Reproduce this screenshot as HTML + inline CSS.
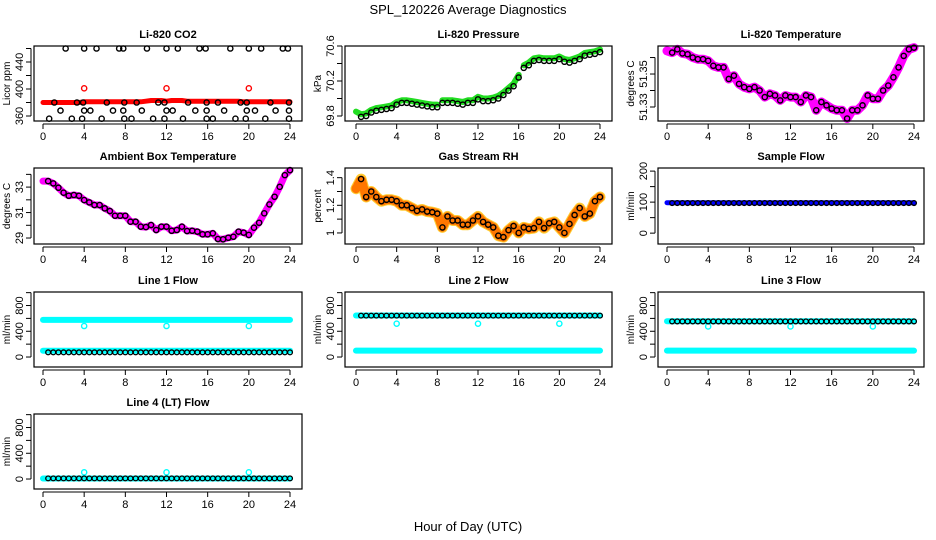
<!DOCTYPE html>
<html><head><meta charset="utf-8"><style>
html,body{margin:0;padding:0;background:#fff;}
svg{display:block;font-family:"Liberation Sans",Arial,sans-serif;}
</style></head><body>
<svg id="c" width="936" height="540" viewBox="0 0 936 540">
<text x="468" y="14" text-anchor="middle" font-size="13">SPL_120226  Average Diagnostics</text>
<text x="468" y="531" text-anchor="middle" font-size="13">Hour of Day (UTC)</text>
</svg>
<script>
// ---- data ----
const hours = [0,0.5,1,1.5,2,2.5,3,3.5,4,4.5,5,5.5,6,6.5,7,7.5,8,8.5,9,9.5,10,10.5,11,11.5,12,12.5,13,13.5,14,14.5,15,15.5,16,16.5,17,17.5,18,18.5,19,19.5,20,20.5,21,21.5,22,22.5,23,23.5,24];
const xTicks = [0,4,8,12,16,20,24];
const spikeHours = [4,12,20];
const co2BlackHours = [2.2,4,5.2,7.4,7.8,10.1,12,13.1,15.2,15.8,18.2,20,21.2,23.3,23.8, 1.1,3.3,3.9,6.2,7.9,9.1,11.2,11.8,14.1,15.9,17,19.2,19.8,22.1,23.9, 1.7,4,4.6,6.8,7.8,9.6,12,12.6,14.8,15.9,17.6,19.8,20.6,22.6,23.9, 0.6,2.8,3.8,5.7,7.9,8.6,10.7,11.8,13.6,15.9,16.5,18.7,19.7,21.6,23.9];
const co2BlackValues = [460,460,460,460,460,460,460,460,460,460,460,460,460,460,460, 380,380,380,380,380,380,380,380,380,380,380,380,380,380,380, 368,368,368,368,368,368,368,368,368,368,368,368,368,368,368, 356,356,356,356,356,356,356,356,356,356,356,356,356,356,356];
const co2Red = [380,380,380,380,380,380,380,380,381,381,381,381,381,381,381,381,381,381,381,381,382,383,383,383,382,383,383,383,382,382,382,382,382,382,382,382,382,382,382,381,381,381,381,381,381,381,381,381,381];
const co2Spikes = [401,401,401];
const pressure = [69.82,69.79,69.80,69.84,69.86,69.87,69.88,69.89,69.93,69.95,69.95,69.94,69.93,69.92,69.91,69.90,69.90,69.95,69.95,69.95,69.94,69.93,69.95,69.95,69.99,69.97,69.97,69.98,70.00,70.04,70.09,70.14,70.24,70.35,70.38,70.43,70.44,70.43,70.43,70.43,70.45,70.42,70.41,70.43,70.45,70.49,70.50,70.51,70.53];
const liTemp = [51.364,51.363,51.365,51.3625,51.362,51.360,51.359,51.359,51.358,51.355,51.354,51.354,51.347,51.349,51.344,51.342,51.341,51.342,51.340,51.336,51.338,51.337,51.334,51.337,51.336,51.336,51.333,51.337,51.336,51.328,51.333,51.331,51.329,51.328,51.328,51.323,51.328,51.328,51.331,51.337,51.335,51.335,51.340,51.343,51.348,51.354,51.361,51.365,51.366];
const ambient = [33.47,33.47,33.29,32.95,32.56,32.32,32.38,32.32,31.98,31.8,31.59,31.59,31.33,31.12,30.75,30.75,30.75,30.28,30.28,29.89,29.86,30.02,29.63,29.89,29.89,29.57,29.63,29.89,29.55,29.57,29.5,29.29,29.29,29.37,28.92,28.9,29.02,29.1,29.5,29.42,29.24,29.81,30.2,30.94,31.64,32.24,33.02,33.94,34.33];
const rh = [1.32,1.39,1.26,1.30,1.26,1.23,1.24,1.24,1.23,1.20,1.20,1.18,1.16,1.17,1.155,1.15,1.14,1.04,1.12,1.09,1.09,1.06,1.06,1.09,1.12,1.08,1.06,1.04,0.98,0.97,1.02,1.05,1.00,1.04,1.03,1.035,1.08,1.035,1.07,1.08,1.04,1.00,1.065,1.13,1.18,1.12,1.14,1.23,1.26];
const sampleFlow = [98,97];        // blue band, black points
const line1Flow = [576,98,73];     // cyan upper, cyan lower, black
const line1Spikes = [482,482,482];
const line2Flow = [645,100,643];
const line2Spikes = [518,518,518];
const line3Flow = [555,100,553];
const line3Spikes = [475,475,475];
const line4Flow = [8,10];          // cyan, black
const line4Spikes = [104,104,104];

// ---- layout ----
const NS="http://www.w3.org/2000/svg";
const svg=document.getElementById('c');
const cols=[{l:34,r:302,x0:43,x24:290},{l:345,r:612,x0:356,x24:600},{l:658,r:924,x0:667,x24:914}];
const rows=[{t:46,b:121},{t:168,b:244},{t:292,b:367},{t:414,b:489}];
function mk(tag,attrs,parent){const e=document.createElementNS(NS,tag);for(const k in attrs)e.setAttribute(k,attrs[k]);(parent||svg).appendChild(e);return e;}

function panel(ci,ri,title,ylab,ymin,ymax,ticks,labels,name){
  const c=cols[ci],r=rows[ri];
  const g=mk('g',{});
  
  
  const sx=h=>c.x0+(c.x24-c.x0)*h/24;
  const sy=v=>r.b-(v-ymin)/(ymax-ymin)*(r.b-r.t);
  const plot=mk('g',{},g);
  const box=mk('rect',{x:c.l,y:r.t,width:c.r-c.l,height:r.b-r.t,fill:'none',stroke:'#000','stroke-width':1.2},g);
  
  
  const t=mk('text',{x:(c.l+c.r)/2,y:r.t-8,'text-anchor':'middle','font-size':11,'font-weight':'bold'},g);
  t.textContent=title;
  
  
  const yl=mk('text',{transform:`translate(${c.l-24},${(r.t+r.b)/2}) rotate(-90)`,'text-anchor':'middle','font-size':10},g);
  yl.textContent=ylab;
  
  
  const ax=mk('g',{},g);
  
  
  mk('line',{x1:sx(0),x2:sx(24),y1:r.b+3,y2:r.b+3,stroke:'#000'},ax);
  xTicks.forEach(h=>{
    mk('line',{x1:sx(h),x2:sx(h),y1:r.b+3,y2:r.b+8,stroke:'#000'},ax);
    const tt=mk('text',{x:sx(h),y:r.b+19,'text-anchor':'middle','font-size':11},ax);
    tt.textContent=h;
    
    
  });
  const ay=mk('g',{},g);
  
  
  mk('line',{x1:c.l-3,x2:c.l-3,y1:sy(ticks[0]),y2:sy(ticks[ticks.length-1]),stroke:'#000'},ay);
  ticks.forEach(v=>{
    mk('line',{x1:c.l-8,x2:c.l-3,y1:sy(v),y2:sy(v),stroke:'#000'},ay);
  });
  labels.forEach(v=>{
    const tt=mk('text',{transform:`translate(${c.l-11},${sy(v)}) rotate(-90)`,'text-anchor':'middle','font-size':11},ay);
    tt.textContent=v;
    
    
  });
  return {plot,sx,sy,name};
}
function band(p,xs,vs,color,w,extra){
  const d=xs.map((h,i)=>(i?'L':'M')+p.sx(h).toFixed(1)+' '+p.sy(vs[i]).toFixed(1)).join(' ');
  const e=mk('path',Object.assign({d,fill:'none',stroke:color,'stroke-width':w,'stroke-linejoin':'round','stroke-linecap':'round'},extra||{}),p.plot);
  
  
}
function pts(p,xs,vs,color,rad,sw){
  xs.forEach((h,i)=>{
    const e=mk('circle',{cx:p.sx(h),cy:p.sy(vs[i]),r:rad||2.6,fill:'none',stroke:color,'stroke-width':sw||1.4},p.plot);
    
    
  });
}
const blackHours=hours.slice(1);
const constArr=(v)=>hours.map(()=>v);

// CO2
let p=panel(0,0,'Li-820 CO2','Licor ppm',352.6,463.7,[360,380,400,420,440,460],[360,400,440],'co2');
band(p,hours,co2Red,'#ff0000',5);
pts(p,spikeHours,co2Spikes,'#ff0000');
pts(p,co2BlackHours,co2BlackValues,'#000');
// Pressure
p=panel(1,0,'Li-820 Pressure','kPa',69.743,70.6,[69.8,70.0,70.2,70.4,70.6],[69.8,70.2,70.6],'pressure');
band(p,hours.slice(0,17),pressure.slice(0,17).map(v=>v+0.03),'#22dd22',6);
band(p,hours.slice(17,33),pressure.slice(17,33).map(v=>v+0.03),'#22dd22',6);
band(p,hours.slice(33),pressure.slice(33).map(v=>v+0.03),'#22dd22',6);
pts(p,blackHours,pressure.slice(1),'#000');
// Li temp
p=panel(2,0,'Li-820 Temperature','degrees C',51.3215,51.367,[51.33,51.34,51.35,51.36],[51.33,51.35],'li-temp');
band(p,hours,liTemp,'#ff00ff',9);
pts(p,blackHours,liTemp.slice(1),'#000');
// Ambient
p=panel(0,1,'Ambient Box Temperature','degrees C',28.53,34.5,[29,30,31,32,33,34],[29,31,33],'ambient');
band(p,hours,ambient,'#ff00ff',7);
pts(p,blackHours,ambient.slice(1),'#000');
// RH
p=panel(1,1,'Gas Stream RH','percent',0.92,1.47,[1.0,1.1,1.2,1.3,1.4],[1.0,1.2,1.4],'gas-rh');
band(p,hours,rh,'#ffcc33',11);
band(p,hours,rh,'#ff7700',9,{'stroke-dasharray':'1.5 2.5'});
pts(p,blackHours,rh.slice(1),'#000');
// Sample flow
p=panel(2,1,'Sample Flow','ml/min',-35,210,[0,50,100,150,200],[0,100,200],'sample-flow');
band(p,hours,constArr(sampleFlow[0]),'#0000ff',5);
pts(p,blackHours,constArr(sampleFlow[1]).slice(1),'#000',2.4,1.3);
// Line flows
function flowPanel(ci,ri,title,name,upper,lower,black,spikes){
  const q=panel(ci,ri,title,'ml/min',-155,1010,[0,200,400,600,800,1000],[0,400,800],name);
  if(upper!==null) band(q,hours,constArr(upper),'#00ffff',6);
  if(lower!==null) band(q,hours,constArr(lower),'#00ffff',6);
  pts(q,spikeHours,spikes,'#00ffff');
  pts(q,blackHours,constArr(black).slice(1),'#000',2.4,1.3);
  return q;
}
flowPanel(0,2,'Line 1 Flow','line1-flow',line1Flow[0],line1Flow[1],line1Flow[2],line1Spikes);
flowPanel(1,2,'Line 2 Flow','line2-flow',line2Flow[0],line2Flow[1],line2Flow[2],line2Spikes);
flowPanel(2,2,'Line 3 Flow','line3-flow',line3Flow[0],line3Flow[1],line3Flow[2],line3Spikes);
flowPanel(0,3,'Line 4 (LT) Flow','line4-flow',null,line4Flow[0],line4Flow[1],line4Spikes);
</script>
</body></html>
